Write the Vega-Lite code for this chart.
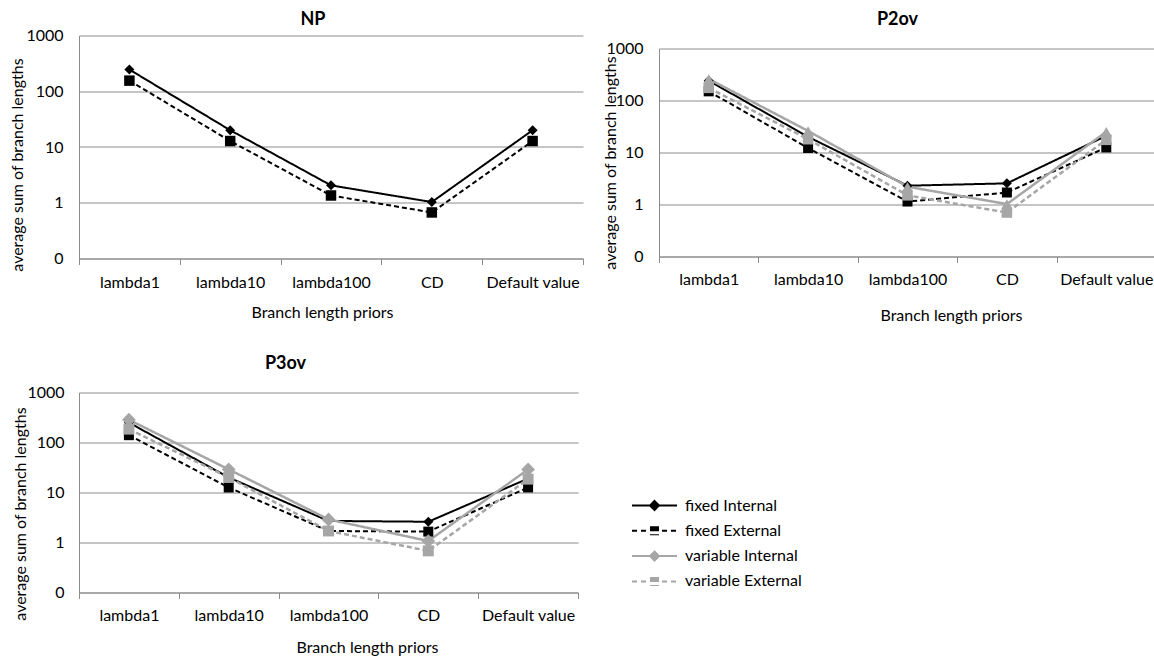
{
  "$schema": "https://vega.github.io/schema/vega-lite/v6.json",
  "padding": {"left": 8, "top": 10.5, "right": 0, "bottom": 0},
  "background": "white",
  "config": {
    "font": "Lato",
    "view": {"stroke": null},
    "axis": {"labelFont": "Lato", "labelFontSize": 16, "labelColor": "#000000", "titleFont": "Lato", "titleFontSize": 16, "titleFontWeight": "normal", "titleColor": "#000000", "domainColor": "#8c8c8c", "tickColor": "#8c8c8c", "gridColor": "#8c8c8c", "domainWidth": 1, "gridWidth": 1, "tickWidth": 1},
    "title": {"font": "Lato", "fontSize": 18, "fontWeight": "bold", "color": "#000000", "frame": "group", "baseline": "alphabetic"}
  },
  "datasets": {
    "d": [
      {"panel": "NP", "prior": "lambda1", "series": "fixed Internal", "value": 245},
      {"panel": "NP", "prior": "lambda10", "series": "fixed Internal", "value": 20},
      {"panel": "NP", "prior": "lambda100", "series": "fixed Internal", "value": 2.05},
      {"panel": "NP", "prior": "CD", "series": "fixed Internal", "value": 1.03},
      {"panel": "NP", "prior": "Default value", "series": "fixed Internal", "value": 20},
      {"panel": "NP", "prior": "lambda1", "series": "fixed External", "value": 155},
      {"panel": "NP", "prior": "lambda10", "series": "fixed External", "value": 12.8},
      {"panel": "NP", "prior": "lambda100", "series": "fixed External", "value": 1.35},
      {"panel": "NP", "prior": "CD", "series": "fixed External", "value": 0.67},
      {"panel": "NP", "prior": "Default value", "series": "fixed External", "value": 12.8},
      {"panel": "P2ov", "prior": "lambda1", "series": "fixed Internal", "value": 240},
      {"panel": "P2ov", "prior": "lambda10", "series": "fixed Internal", "value": 20},
      {"panel": "P2ov", "prior": "lambda100", "series": "fixed Internal", "value": 2.3},
      {"panel": "P2ov", "prior": "CD", "series": "fixed Internal", "value": 2.55},
      {"panel": "P2ov", "prior": "Default value", "series": "fixed Internal", "value": 21},
      {"panel": "P2ov", "prior": "lambda1", "series": "fixed External", "value": 150},
      {"panel": "P2ov", "prior": "lambda10", "series": "fixed External", "value": 12.2},
      {"panel": "P2ov", "prior": "lambda100", "series": "fixed External", "value": 1.14},
      {"panel": "P2ov", "prior": "CD", "series": "fixed External", "value": 1.7},
      {"panel": "P2ov", "prior": "Default value", "series": "fixed External", "value": 12.5},
      {"panel": "P2ov", "prior": "lambda1", "series": "variable Internal", "value": 260},
      {"panel": "P2ov", "prior": "lambda10", "series": "variable Internal", "value": 26},
      {"panel": "P2ov", "prior": "lambda100", "series": "variable Internal", "value": 2.2},
      {"panel": "P2ov", "prior": "CD", "series": "variable Internal", "value": 1.02},
      {"panel": "P2ov", "prior": "Default value", "series": "variable Internal", "value": 25},
      {"panel": "P2ov", "prior": "lambda1", "series": "variable External", "value": 175},
      {"panel": "P2ov", "prior": "lambda10", "series": "variable External", "value": 18},
      {"panel": "P2ov", "prior": "lambda100", "series": "variable External", "value": 1.5},
      {"panel": "P2ov", "prior": "CD", "series": "variable External", "value": 0.7},
      {"panel": "P2ov", "prior": "Default value", "series": "variable External", "value": 17.5},
      {"panel": "P3ov", "prior": "lambda1", "series": "fixed Internal", "value": 250},
      {"panel": "P3ov", "prior": "lambda10", "series": "fixed Internal", "value": 20},
      {"panel": "P3ov", "prior": "lambda100", "series": "fixed Internal", "value": 2.7},
      {"panel": "P3ov", "prior": "CD", "series": "fixed Internal", "value": 2.6},
      {"panel": "P3ov", "prior": "Default value", "series": "fixed Internal", "value": 19},
      {"panel": "P3ov", "prior": "lambda1", "series": "fixed External", "value": 140},
      {"panel": "P3ov", "prior": "lambda10", "series": "fixed External", "value": 12.6},
      {"panel": "P3ov", "prior": "lambda100", "series": "fixed External", "value": 1.7},
      {"panel": "P3ov", "prior": "CD", "series": "fixed External", "value": 1.65},
      {"panel": "P3ov", "prior": "Default value", "series": "fixed External", "value": 12.6},
      {"panel": "P3ov", "prior": "lambda1", "series": "variable Internal", "value": 285},
      {"panel": "P3ov", "prior": "lambda10", "series": "variable Internal", "value": 29},
      {"panel": "P3ov", "prior": "lambda100", "series": "variable Internal", "value": 2.9},
      {"panel": "P3ov", "prior": "CD", "series": "variable Internal", "value": 1.07},
      {"panel": "P3ov", "prior": "Default value", "series": "variable Internal", "value": 29},
      {"panel": "P3ov", "prior": "lambda1", "series": "variable External", "value": 185},
      {"panel": "P3ov", "prior": "lambda10", "series": "variable External", "value": 20},
      {"panel": "P3ov", "prior": "lambda100", "series": "variable External", "value": 1.7},
      {"panel": "P3ov", "prior": "CD", "series": "variable External", "value": 0.68},
      {"panel": "P3ov", "prior": "Default value", "series": "variable External", "value": 18.5}
    ]
  },
  "spacing": 31,
  "vconcat": [
    {
      "spacing": 18,
      "hconcat": [
        {
          "title": {"text": "NP", "offset": -1.5, "dx": -18},
          "width": 504, "height": 223,
          "data": {"name": "d"},
          "transform": [{"filter": "datum.panel === 'NP'"}],
          "encoding": {
            "x": {"field": "prior", "type": "nominal", "sort": ["lambda1", "lambda10", "lambda100", "CD", "Default value"], "scale": {"type": "band", "paddingInner": 0, "paddingOuter": 0}, "axis": {"title": "Branch length priors", "labelAngle": 0, "tickBand": "extent", "tickSize": 6, "labelPadding": 10, "labelOverlap": false, "grid": false, "titleX": 243, "titleY": 46, "titleBaseline": "top", "titleAlign": "center"}},
            "y": {"field": "value", "type": "quantitative", "scale": {"type": "log", "domain": [0.1, 1000], "nice": false}, "axis": {"title": "average sum of branch lengths", "values": [0.1, 1, 10, 100, 1000], "labelExpr": "datum.value < 0.5 ? '0' : format(datum.value, 'd')", "grid": true, "ticks": false, "tickSize": 0, "labelPadding": 16, "labelOverlap": false, "labelFlush": false, "titleX": -62, "titleY": 129, "titleAngle": 270, "titleBaseline": "middle", "titleAlign": "center"}}
          },
          "layer": [
            {"transform": [{"filter": "indexof(datum.series, 'fixed') === 0"}], "mark": {"type": "line", "strokeWidth": 2},
             "encoding": {
               "color": {"field": "series", "type": "nominal", "scale": {"domain": ["fixed Internal", "fixed External", "variable Internal", "variable External"], "range": ["#000000", "#000000", "#a6a6a6", "#a6a6a6"]},
                 "legend": {"title": null, "orient": "none", "legendX": 550, "legendY": 462, "symbolSize": 100, "symbolStrokeWidth": 2, "labelFont": "Lato", "labelFontSize": 16, "labelColor": "#000000", "labelOffset": 40, "rowPadding": 7.3, "padding": 0, "symbolType": "stroke",
                   "encode": {"symbols": {"update": {"shape": {"signal": "indexof(datum.value, 'Internal') >= 0 ? 'M-1,0L8,0M3.5,-0.9L4.4,0L3.5,0.9L2.6,0ZM3.5,-0.5L4,0L3.5,0.5L3,0Z' : 'M-1,0L0.2,0M0.8,0L2,0M5,0L6.2,0M6.8,0L8,0M2.8,-0.9L2.8,0.9M3.15,-0.9L3.15,0.9M3.5,-0.9L3.5,0.9M3.85,-0.9L3.85,0.9M4.2,-0.9L4.2,0.9'"}, "fill": {"signal": "indexof(datum.value, 'fixed') === 0 ? '#000000' : '#a6a6a6'"}, "stroke": {"signal": "indexof(datum.value, 'fixed') === 0 ? '#000000' : '#a6a6a6'"}, "strokeDash": {"value": []}, "opacity": {"value": 1}, "fillOpacity": {"value": 1}}}}}},
               "strokeDash": {"field": "series", "type": "nominal", "scale": {"domain": ["fixed Internal", "fixed External", "variable Internal", "variable External"], "range": [[1, 0], [5, 3], [1, 0], [5, 3]]}, "legend": null}
             }},
            {"transform": [{"filter": "datum.series === 'fixed Internal'"}], "mark": {"type": "point", "shape": "diamond", "filled": true, "color": "#000000", "opacity": 1, "size": 100}},
            {"transform": [{"filter": "datum.series === 'fixed External'"}], "mark": {"type": "point", "shape": "square", "filled": true, "color": "#000000", "opacity": 1, "size": 110}}
          ]
        },
        {
          "title": {"text": "P2ov", "offset": 6.5, "dx": -10},
          "width": 497, "height": 221,
          "data": {"name": "d"},
          "transform": [{"filter": "datum.panel === 'P2ov'"}],
          "encoding": {
            "x": {"field": "prior", "type": "nominal", "sort": ["lambda1", "lambda10", "lambda100", "CD", "Default value"], "scale": {"type": "band", "paddingInner": 0, "paddingOuter": 0}, "axis": {"title": "Branch length priors", "labelAngle": 0, "tickBand": "extent", "tickSize": 6, "labelPadding": 9, "labelOverlap": false, "grid": false, "titleX": 292, "titleY": 51, "titleBaseline": "top", "titleAlign": "center"}},
            "y": {"field": "value", "type": "quantitative", "scale": {"type": "log", "domain": [0.1, 1000], "nice": false, "range": [221, 13]}, "axis": {"title": "average sum of branch lengths", "values": [0.1, 1, 10, 100, 1000], "labelExpr": "datum.value < 0.5 ? '0' : format(datum.value, 'd')", "grid": true, "ticks": false, "tickSize": 0, "labelPadding": 16, "labelOverlap": false, "labelFlush": false, "titleX": -48.5, "titleY": 127, "titleAngle": 270, "titleBaseline": "middle", "titleAlign": "center"}}
          },
          "layer": [
            {"transform": [{"filter": "indexof(datum.series, 'fixed') === 0"}], "mark": {"type": "line", "strokeWidth": 2},
             "encoding": {
               "color": {"field": "series", "type": "nominal", "scale": {"domain": ["fixed Internal", "fixed External", "variable Internal", "variable External"], "range": ["#000000", "#000000", "#a6a6a6", "#a6a6a6"]},
                 "legend": {"title": null, "orient": "none", "legendX": 550, "legendY": 462, "symbolSize": 100, "symbolStrokeWidth": 2, "labelFont": "Lato", "labelFontSize": 16, "labelColor": "#000000", "labelOffset": 40, "rowPadding": 7.3, "padding": 0, "symbolType": "stroke",
                   "encode": {"symbols": {"update": {"shape": {"signal": "indexof(datum.value, 'Internal') >= 0 ? 'M-1,0L8,0M3.5,-0.9L4.4,0L3.5,0.9L2.6,0ZM3.5,-0.5L4,0L3.5,0.5L3,0Z' : 'M-1,0L0.2,0M0.8,0L2,0M5,0L6.2,0M6.8,0L8,0M2.8,-0.9L2.8,0.9M3.15,-0.9L3.15,0.9M3.5,-0.9L3.5,0.9M3.85,-0.9L3.85,0.9M4.2,-0.9L4.2,0.9'"}, "fill": {"signal": "indexof(datum.value, 'fixed') === 0 ? '#000000' : '#a6a6a6'"}, "stroke": {"signal": "indexof(datum.value, 'fixed') === 0 ? '#000000' : '#a6a6a6'"}, "strokeDash": {"value": []}, "opacity": {"value": 1}, "fillOpacity": {"value": 1}}}}}},
               "strokeDash": {"field": "series", "type": "nominal", "scale": {"domain": ["fixed Internal", "fixed External", "variable Internal", "variable External"], "range": [[1, 0], [5, 3], [1, 0], [5, 3]]}, "legend": null}
             }},
            {"transform": [{"filter": "indexof(datum.series, 'variable') === 0"}], "mark": {"type": "line", "strokeWidth": 2.5},
             "encoding": {
               "color": {"field": "series", "type": "nominal", "scale": {"domain": ["fixed Internal", "fixed External", "variable Internal", "variable External"], "range": ["#000000", "#000000", "#a6a6a6", "#a6a6a6"]},
                 "legend": {"title": null, "orient": "none", "legendX": 550, "legendY": 462, "symbolSize": 100, "symbolStrokeWidth": 2, "labelFont": "Lato", "labelFontSize": 16, "labelColor": "#000000", "labelOffset": 40, "rowPadding": 7.3, "padding": 0, "symbolType": "stroke",
                   "encode": {"symbols": {"update": {"shape": {"signal": "indexof(datum.value, 'Internal') >= 0 ? 'M-1,0L8,0M3.5,-0.9L4.4,0L3.5,0.9L2.6,0ZM3.5,-0.5L4,0L3.5,0.5L3,0Z' : 'M-1,0L0.2,0M0.8,0L2,0M5,0L6.2,0M6.8,0L8,0M2.8,-0.9L2.8,0.9M3.15,-0.9L3.15,0.9M3.5,-0.9L3.5,0.9M3.85,-0.9L3.85,0.9M4.2,-0.9L4.2,0.9'"}, "fill": {"signal": "indexof(datum.value, 'fixed') === 0 ? '#000000' : '#a6a6a6'"}, "stroke": {"signal": "indexof(datum.value, 'fixed') === 0 ? '#000000' : '#a6a6a6'"}, "strokeDash": {"value": []}, "opacity": {"value": 1}, "fillOpacity": {"value": 1}}}}}},
               "strokeDash": {"field": "series", "type": "nominal", "scale": {"domain": ["fixed Internal", "fixed External", "variable Internal", "variable External"], "range": [[1, 0], [5, 3], [1, 0], [5, 3]]}, "legend": null}
             }},
            {"transform": [{"filter": "datum.series === 'fixed Internal'"}], "mark": {"type": "point", "shape": "diamond", "filled": true, "color": "#000000", "opacity": 1, "size": 100}},
            {"transform": [{"filter": "datum.series === 'fixed External'"}], "mark": {"type": "point", "shape": "square", "filled": true, "color": "#000000", "opacity": 1, "size": 100}},
            {"transform": [{"filter": "datum.series === 'variable Internal'"}], "mark": {"type": "point", "shape": "triangle-up", "filled": true, "color": "#a6a6a6", "opacity": 1, "size": 120}},
            {"transform": [{"filter": "datum.series === 'variable External'"}], "mark": {"type": "point", "shape": "square", "filled": true, "color": "#a6a6a6", "opacity": 1, "size": 110}}
          ]
        }
      ]
    },
    {
      "title": {"text": "P3ov", "offset": 12, "dx": -43},
      "width": 499, "height": 200,
      "data": {"name": "d"},
      "transform": [{"filter": "datum.panel === 'P3ov'"}],
      "encoding": {
        "x": {"field": "prior", "type": "nominal", "sort": ["lambda1", "lambda10", "lambda100", "CD", "Default value"], "scale": {"type": "band", "paddingInner": 0, "paddingOuter": 0}, "axis": {"title": "Branch length priors", "labelAngle": 0, "tickBand": "extent", "tickSize": 6, "labelPadding": 9, "labelOverlap": false, "grid": false, "titleX": 288, "titleY": 47, "titleBaseline": "top", "titleAlign": "center"}},
        "y": {"field": "value", "type": "quantitative", "scale": {"type": "log", "domain": [0.1, 1000], "nice": false}, "axis": {"title": "average sum of branch lengths", "values": [0.1, 1, 10, 100, 1000], "labelExpr": "datum.value < 0.5 ? '0' : format(datum.value, 'd')", "grid": true, "ticks": false, "tickSize": 0, "labelPadding": 15, "labelOverlap": false, "labelFlush": false, "titleX": -58.5, "titleY": 121, "titleAngle": 270, "titleBaseline": "middle", "titleAlign": "center"}}
      },
      "layer": [
        {"transform": [{"filter": "indexof(datum.series, 'fixed') === 0"}], "mark": {"type": "line", "strokeWidth": 2},
         "encoding": {
           "color": {"field": "series", "type": "nominal", "scale": {"domain": ["fixed Internal", "fixed External", "variable Internal", "variable External"], "range": ["#000000", "#000000", "#a6a6a6", "#a6a6a6"]},
             "legend": {"title": null, "orient": "none", "legendX": 550, "legendY": 462, "symbolSize": 100, "symbolStrokeWidth": 2, "labelFont": "Lato", "labelFontSize": 16, "labelColor": "#000000", "labelOffset": 40, "rowPadding": 7.3, "padding": 0, "symbolType": "stroke",
               "encode": {"symbols": {"update": {"shape": {"signal": "indexof(datum.value, 'Internal') >= 0 ? 'M-1,0L8,0M3.5,-0.9L4.4,0L3.5,0.9L2.6,0ZM3.5,-0.5L4,0L3.5,0.5L3,0Z' : 'M-1,0L0.2,0M0.8,0L2,0M5,0L6.2,0M6.8,0L8,0M2.8,-0.9L2.8,0.9M3.15,-0.9L3.15,0.9M3.5,-0.9L3.5,0.9M3.85,-0.9L3.85,0.9M4.2,-0.9L4.2,0.9'"}, "fill": {"signal": "indexof(datum.value, 'fixed') === 0 ? '#000000' : '#a6a6a6'"}, "stroke": {"signal": "indexof(datum.value, 'fixed') === 0 ? '#000000' : '#a6a6a6'"}, "strokeDash": {"value": []}, "opacity": {"value": 1}, "fillOpacity": {"value": 1}}}}}},
           "strokeDash": {"field": "series", "type": "nominal", "scale": {"domain": ["fixed Internal", "fixed External", "variable Internal", "variable External"], "range": [[1, 0], [5, 3], [1, 0], [5, 3]]}, "legend": null}
         }},
        {"transform": [{"filter": "indexof(datum.series, 'variable') === 0"}], "mark": {"type": "line", "strokeWidth": 2.5},
         "encoding": {
           "color": {"field": "series", "type": "nominal", "scale": {"domain": ["fixed Internal", "fixed External", "variable Internal", "variable External"], "range": ["#000000", "#000000", "#a6a6a6", "#a6a6a6"]},
             "legend": {"title": null, "orient": "none", "legendX": 550, "legendY": 462, "symbolSize": 100, "symbolStrokeWidth": 2, "labelFont": "Lato", "labelFontSize": 16, "labelColor": "#000000", "labelOffset": 40, "rowPadding": 7.3, "padding": 0, "symbolType": "stroke",
               "encode": {"symbols": {"update": {"shape": {"signal": "indexof(datum.value, 'Internal') >= 0 ? 'M-1,0L8,0M3.5,-0.9L4.4,0L3.5,0.9L2.6,0ZM3.5,-0.5L4,0L3.5,0.5L3,0Z' : 'M-1,0L0.2,0M0.8,0L2,0M5,0L6.2,0M6.8,0L8,0M2.8,-0.9L2.8,0.9M3.15,-0.9L3.15,0.9M3.5,-0.9L3.5,0.9M3.85,-0.9L3.85,0.9M4.2,-0.9L4.2,0.9'"}, "fill": {"signal": "indexof(datum.value, 'fixed') === 0 ? '#000000' : '#a6a6a6'"}, "stroke": {"signal": "indexof(datum.value, 'fixed') === 0 ? '#000000' : '#a6a6a6'"}, "strokeDash": {"value": []}, "opacity": {"value": 1}, "fillOpacity": {"value": 1}}}}}},
           "strokeDash": {"field": "series", "type": "nominal", "scale": {"domain": ["fixed Internal", "fixed External", "variable Internal", "variable External"], "range": [[1, 0], [5, 3], [1, 0], [5, 3]]}, "legend": null}
         }},
        {"transform": [{"filter": "datum.series === 'fixed Internal'"}], "mark": {"type": "point", "shape": "diamond", "filled": true, "color": "#000000", "opacity": 1, "size": 100}},
        {"transform": [{"filter": "datum.series === 'fixed External'"}], "mark": {"type": "point", "shape": "square", "filled": true, "color": "#000000", "opacity": 1, "size": 100}},
        {"transform": [{"filter": "datum.series === 'variable Internal'"}], "mark": {"type": "point", "shape": "diamond", "filled": true, "color": "#a6a6a6", "opacity": 1, "size": 190}},
        {"transform": [{"filter": "datum.series === 'variable External'"}], "mark": {"type": "point", "shape": "square", "filled": true, "color": "#a6a6a6", "opacity": 1, "size": 120}}
      ]
    }
  ]
}
